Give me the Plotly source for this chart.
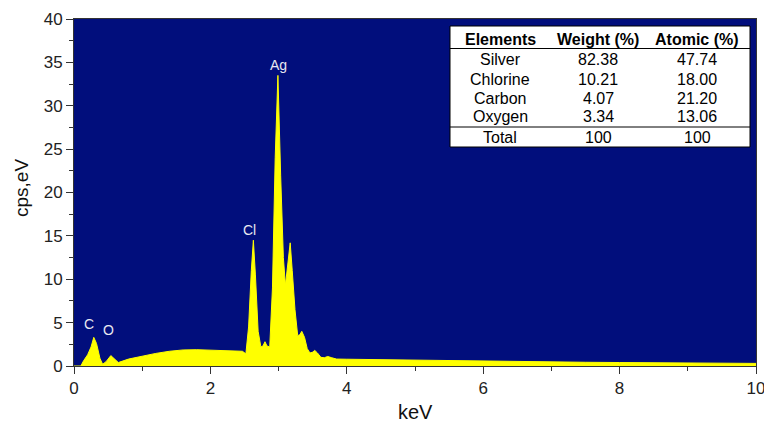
import plotly.graph_objects as go

# Spectrum data (keV, cps/eV)
energy = [0.0, 0.10, 0.14, 0.20, 0.25, 0.29, 0.33, 0.38, 0.42, 0.47, 0.54, 0.60, 0.65,
          0.8, 1.0, 1.2, 1.4, 1.6, 1.8, 2.0, 2.2, 2.4, 2.47, 2.52, 2.56, 2.60, 2.63,
          2.66, 2.70, 2.74, 2.77, 2.80, 2.83, 2.87, 2.91, 2.95, 2.99, 3.03, 3.07, 3.10,
          3.13, 3.17, 3.20, 3.24, 3.28, 3.31, 3.34, 3.38, 3.42, 3.46, 3.50, 3.53, 3.57,
          3.62, 3.67, 3.72, 3.78, 3.85, 4.0, 4.5, 5.0, 5.5, 6.0, 6.5, 7.0, 7.5, 8.0,
          8.5, 9.0, 9.5, 10.0]
counts = [0.0, 0.0, 0.6, 1.3, 2.2, 3.3, 2.6, 0.9, 0.2, 0.5, 1.2, 0.8, 0.4,
          0.8, 1.15, 1.45, 1.7, 1.85, 1.88, 1.85, 1.8, 1.75, 1.7, 1.4, 4.5, 11.0, 14.5,
          10.5, 4.0, 2.2, 2.3, 2.8, 2.3, 2.2, 9.0, 24.0, 33.5, 22.0, 12.5, 9.3,
          11.5, 14.2, 11.0, 6.5, 3.5, 3.6, 4.0, 3.3, 2.0, 1.5, 1.6, 1.8, 1.5,
          1.0, 0.95, 1.1, 0.95, 0.8, 0.78, 0.72, 0.65, 0.6, 0.55, 0.5, 0.46, 0.43, 0.4,
          0.37, 0.34, 0.32, 0.3]

# Peak labels
peak_names = ["C", "O", "Cl", "Ag"]
peak_x = [0.22, 0.50, 2.58, 3.00]
peak_y = [4.8, 4.2, 15.7, 34.7]

# Table content
tbl_header = ["Elements", "Weight (%)", "Atomic (%)"]
tbl_elements = ["Silver", "Chlorine", "Carbon", "Oxygen", "Total"]
tbl_weight = ["82.38", "10.21", "4.07", "3.34", "100"]
tbl_atomic = ["47.74", "18.00", "21.20", "13.06", "100"]

W, H = 764, 425
L, R, T, B = 74, 8, 19, 59
PW, PH = W - L - R, H - T - B

def px(x):
    return (x - L) / PW

def py(y):
    return (H - B - y) / PH

navy = "#010E7C"

fig = go.Figure()
fig.add_trace(go.Scatter(x=energy, y=counts, mode="lines", fill="tozeroy",
                         line=dict(color="#FFFF00", width=1),
                         fillcolor="#FFFF00", hoverinfo="skip", showlegend=False))

font = "Liberation Sans, Arial, sans-serif"

for n, x, y in zip(peak_names, peak_x, peak_y):
    fig.add_annotation(x=x, y=y, text=n, showarrow=False, xanchor="center",
                       font=dict(family=font, size=14, color="#E8E8F0"))

# Table
x0, x1, y0, y1 = 450, 750, 26, 147
fig.add_shape(type="rect", xref="paper", yref="paper", x0=px(x0), x1=px(x1),
              y0=py(y1), y1=py(y0), fillcolor="white",
              line=dict(color="black", width=1), layer="above")
for yl in (48.5, 127):
    fig.add_shape(type="line", xref="paper", yref="paper", x0=px(x0), x1=px(x1),
                  y0=py(yl), y1=py(yl), line=dict(color="black", width=1), layer="above")
col_x = [500, 598, 697]
row_y = [39, 59, 79, 98, 117, 137]
for cx, h in zip(col_x, tbl_header):
    fig.add_annotation(xref="paper", yref="paper", x=px(cx), y=py(row_y[0]), text="<b>%s</b>" % h,
                       showarrow=False, xanchor="center", yanchor="middle",
                       font=dict(family=font, size=16, color="black"))
for i in range(len(tbl_elements)):
    for cx, v in zip(col_x, (tbl_elements[i], tbl_weight[i], tbl_atomic[i])):
        fig.add_annotation(xref="paper", yref="paper", x=px(cx), y=py(row_y[i + 1]), text=v,
                           showarrow=False, xanchor="center", yanchor="middle",
                           font=dict(family=font, size=16, color="black"))

# Axis titles
fig.add_annotation(xref="paper", yref="paper", x=px(415), y=py(412), text="keV",
                   showarrow=False, xanchor="center", yanchor="middle",
                   font=dict(family=font, size=20, color="#111"))
fig.add_annotation(xref="paper", yref="paper", x=px(21), y=py(188), text="cps,eV",
                   showarrow=False, textangle=-90, xanchor="center", yanchor="middle",
                   font=dict(family=font, size=19, color="#111"))

fig.update_layout(
    width=W, height=H,
    margin=dict(l=L, r=R, t=T, b=B, autoexpand=False),
    paper_bgcolor="white", plot_bgcolor=navy,
    font=dict(family=font, size=17, color="#222222"),
    xaxis=dict(range=[0, 10], dtick=2, showgrid=False, zeroline=False, automargin=False,
               ticks="outside", ticklen=7, tickcolor="#333", showline=True,
               linecolor="#333", mirror=True, ticklabeloverflow="allow",
               minor=dict(dtick=1, ticks="outside", ticklen=4, tickcolor="#333"),
               tickfont=dict(size=17)),
    yaxis=dict(range=[0, 40], dtick=5, showgrid=False, zeroline=False, automargin=False,
               ticks="outside", ticklen=7, tickcolor="#333", showline=True,
               linecolor="#333", mirror=True, ticklabeloverflow="allow",
               minor=dict(dtick=2.5, ticks="outside", ticklen=4, tickcolor="#333"),
               tickfont=dict(size=17)),
)

fig.write_html("out.html", config={"displayModeBar": False},
               post_script="document.body.style.margin='0';document.body.style.overflow='hidden';")
